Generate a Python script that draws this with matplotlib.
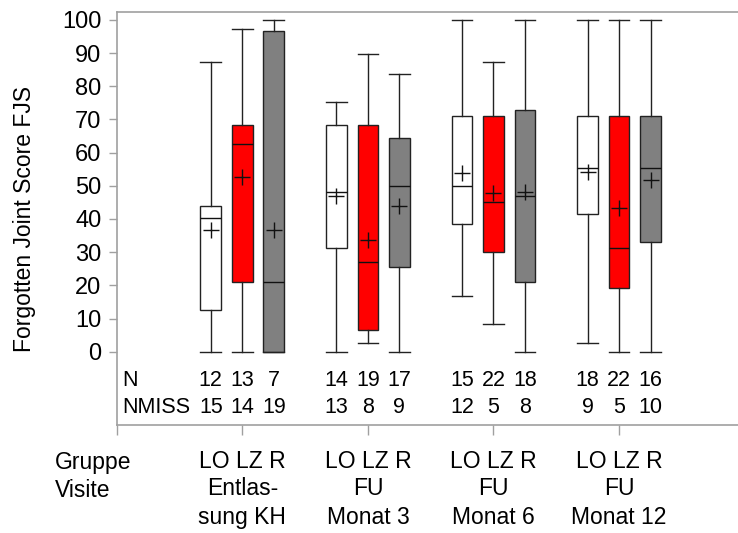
import matplotlib
matplotlib.use("Agg")
import matplotlib.pyplot as plt

plt.rcParams['font.family'] = ['Liberation Sans', 'DejaVu Sans']

# ---- data ----
visits = ["Entlas-\nsung KH", "FU\nMonat 3", "FU\nMonat 6", "FU\nMonat 12"]
groups = ["LO", "LZ", "R"]
group_colors = ["#FFFFFF", "#FF0000", "#808080"]

# per visit, per group (LO, LZ, R)
whislo = [[0, 0, 0], [0, 2.5, 0], [16.9, 8.4, 0], [2.5, 0, 0]]
q1 = [[12.7, 21.1, 0], [31.4, 6.5, 25.4], [38.5, 30.1, 21.1], [41.5, 19.3, 33.2]]
med = [[40.2, 62.5, 21.1], [48.0, 27.0, 50.0], [50.0, 45.1, 46.9], [55.5, 31.4, 55.3]]
q3 = [[43.8, 68.4, 96.8], [68.4, 68.4, 64.4], [71.0, 71.0, 72.8], [71.0, 71.0, 71.0]]
whishi = [[87.2, 97.4, 100], [75.2, 89.7, 83.6], [100, 87.2, 100], [100, 100, 100]]
means = [[36.7, 52.8, 36.7], [46.9, 33.7, 43.9], [54.0, 47.9, 48.1], [54.3, 43.2, 51.8]]
n_vals = [[12, 13, 7], [14, 19, 17], [15, 22, 18], [18, 22, 16]]
nmiss_vals = [[15, 14, 19], [13, 8, 9], [12, 5, 8], [9, 5, 10]]

yticks = list(range(0, 101, 10))

# ---- figure ----
fig = plt.figure(figsize=(7.38, 5.33), dpi=100)
W, H = 738, 533
left_px, top_px, bottom_px = 116.7, 12.3, 425.0
ax = fig.add_axes([left_px / W, (H - bottom_px) / H, 1 - left_px / W, (bottom_px - top_px) / H])

spacing_px = 125.6
offset = 0.251
bw = 0.165
fs_n = 15.5
fs_x = 16.5

for vi in range(len(visits)):
    for gi in range(len(groups)):
        pos = vi + 1 + (gi - 1) * offset
        st = dict(whislo=whislo[vi][gi], q1=q1[vi][gi], med=med[vi][gi],
                  q3=q3[vi][gi], whishi=whishi[vi][gi], mean=means[vi][gi], fliers=[])
        ax.bxp([st], positions=[pos], widths=bw, patch_artist=True, showmeans=True,
               boxprops=dict(facecolor=group_colors[gi], edgecolor='#222222', linewidth=1.0),
               medianprops=dict(color='#111111', linewidth=1.0),
               whiskerprops=dict(color='#222222', linewidth=1.0),
               capprops=dict(color='#222222', linewidth=1.0),
               meanprops=dict(marker='+', markersize=12, markeredgecolor='#111111',
                              markeredgewidth=1.0, linestyle='none'),
               capwidths=bw, manage_ticks=False)
        ax.text(pos, -8.8, str(n_vals[vi][gi]), ha='center', va='center', fontsize=fs_n)
        ax.text(pos, -16.7, str(nmiss_vals[vi][gi]), ha='center', va='center', fontsize=fs_n)

    ax.text(vi + 1, -33.0, " ".join(groups), ha='center', va='center', fontsize=fs_x,
            clip_on=False)
    lines = visits[vi].split("\n")
    for li, line in enumerate(lines):
        ax.text(vi + 1, -41.3 - li * 8.6, line, ha='center', va='center', fontsize=fs_x,
                clip_on=False)

ax.text(0.048, -8.8, "N", ha='left', va='center', fontsize=fs_n)
ax.text(0.048, -16.7, "NMISS", ha='left', va='center', fontsize=fs_n)
ax.text(-0.491, -33.3, "Gruppe", ha='left', va='center', fontsize=fs_x, clip_on=False)
ax.text(-0.491, -41.7, "Visite", ha='left', va='center', fontsize=fs_x, clip_on=False)

ax.set_xlim(0, (W - left_px) / spacing_px)
ax.set_ylim(-22.1, 102.3)
ax.set_yticks(yticks)
ax.set_yticklabels([str(t) for t in yticks], fontsize=17)
ax.set_xticks(range(0, len(visits) + 1))
ax.set_xticklabels([])
ax.tick_params(axis='y', length=6, color='#A0A0A0', width=1, pad=5)
ax.tick_params(axis='x', length=7.5, color='#A0A0A0', width=1)

for s in ['left', 'top', 'bottom']:
    ax.spines[s].set_color('#A0A0A0')
    ax.spines[s].set_linewidth(1.2)
ax.spines['right'].set_visible(False)

ax.set_ylabel("Forgotten Joint Score FJS", fontsize=16.5)
ax.yaxis.set_label_coords((36 - left_px) / (W - left_px), 0.5)

fig.savefig("out.png", dpi=100)
